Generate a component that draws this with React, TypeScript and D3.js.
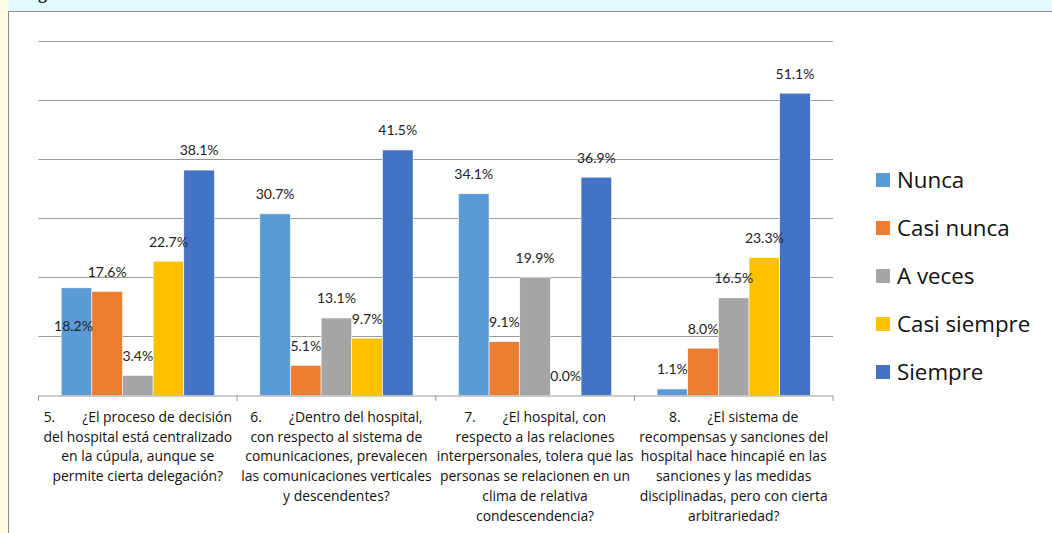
import React from "react";
import * as d3 from "d3";

const categories: string[][] = [
  ["5.|¿El proceso de decisión", "del hospital está centralizado", "en la cúpula, aunque se", "permite cierta delegación?"],
  ["6.|¿Dentro del hospital,", "con respecto al sistema de", "comunicaciones, prevalecen", "las comunicaciones verticales", "y descendentes?"],
  ["7.|¿El hospital, con", "respecto a las relaciones", "interpersonales, tolera que las", "personas se relacionen en un", "clima de relativa", "condescendencia?"],
  ["8.|¿El sistema de", "recompensas y sanciones del", "hospital hace hincapié en las", "sanciones y las medidas", "disciplinadas, pero con cierta", "arbitrariedad?"],
];
const seriesNames = ["Nunca", "Casi nunca", "A veces", "Casi siempre", "Siempre"];
const nunca = [18.2, 30.7, 34.1, 1.1];
const casiNunca = [17.6, 5.1, 9.1, 8.0];
const aVeces = [3.4, 13.1, 19.9, 16.5];
const casiSiempre = [22.7, 9.7, 0.0, 23.3];
const siempre = [38.1, 41.5, 36.9, 51.1];
const colors = ["#5B9BD5", "#ED7D31", "#A5A5A5", "#FFC000", "#4472C4"];

const seriesValues = [nunca, casiNunca, aVeces, casiSiempre, siempre];

// manually displaced data label (series index, category index) -> offset
const labelOffsets: Record<string, [number, number]> = { "0-0": [-3, 58] };

export default function App() {
  const W = 1052, H = 533;
  const plotLeft = 38.5, plotRight = 833, yTop = 40.5, yBase = 395.5;
  const y = d3.scaleLinear().domain([0, 60]).range([yBase, yTop]);
  const catIdx = categories.map((_, i) => i);
  const x0 = d3.scaleBand<number>().domain(catIdx).range([plotLeft, plotRight]).padding(0);
  const x1 = d3.scaleBand<number>().domain(seriesNames.map((_, i) => i)).range([0, x0.bandwidth()]).paddingInner(0).paddingOuter(0.74);
  const ticks = y.ticks(6);
  const font = "Lato, 'Open Sans', sans-serif";
  const font2 = "'Open Sans', Lato, sans-serif";
  const fmt = d3.format(".1f");

  return (
    <svg width={W} height={H} style={{ position: "absolute", left: 0, top: 0, background: "#fff" }} fontFamily={font}>
      <rect x={0} y={0} width={W} height={11} fill="#e2fbfb" />
      <rect x={0} y={0} width={8} height={H} fill="#fffbe6" />
      <text x={38} y={-1} fontFamily="'Liberation Serif', serif" fontWeight="bold" fontSize={18} fill="#222">g</text>
      <rect x={8.5} y={11.5} width={1100} height={600} fill="#fff" stroke="#8c8c8c" strokeWidth={1} />
      {ticks.filter(t => t > 0).map(t => (
        <line key={t} x1={plotLeft} x2={plotRight} y1={Math.round(y(t)) + 0.5} y2={Math.round(y(t)) + 0.5} stroke="#999" strokeWidth={1} />
      ))}
      {seriesValues.map((vals, si) => vals.map((v, ci) => {
        const bx = (x0(ci) as number) + (x1(si) as number);
        return (
          <rect key={`b${si}-${ci}`} x={bx} y={y(v)} width={x1.bandwidth()} height={yBase - y(v)} fill={colors[si]} stroke="#fff" strokeWidth={0.6} />
        );
      }))}
      <line x1={plotLeft} x2={plotRight} y1={yBase + 0.5} y2={yBase + 0.5} stroke="#999" strokeWidth={1} />
      {[...catIdx, catIdx.length].map(i => {
        const xx = i < catIdx.length ? (x0(i) as number) : plotRight;
        return <line key={`t${i}`} x1={xx} x2={xx} y1={yBase} y2={yBase + 5.5} stroke="#999" strokeWidth={1} />;
      })}
      {seriesValues.map((vals, si) => vals.map((v, ci) => {
        const off = labelOffsets[`${si}-${ci}`] || [0, 0];
        const cx = (x0(ci) as number) + (x1(si) as number) + x1.bandwidth() / 2 + off[0];
        const cy = y(v) - 19.6 + off[1];
        return (
          <text key={`l${si}-${ci}`} x={cx} y={cy + 5} textAnchor="middle" fontSize={14} fill="#222">{fmt(v)}%</text>
        );
      }))}
      {categories.map((lines, ci) => {
        const cx = (x0(ci) as number) + x0.bandwidth() / 2;
        return lines.map((ln, li) => {
          const yy = 422 + li * 19.7;
          if (ln.includes("|")) {
            const [num, rest] = ln.split("|");
            return (
              <text key={`c${ci}-${li}`} x={cx} y={yy} textAnchor="middle" fontSize={13.9} fontFamily={font2} fill="#111">
                <tspan>{num}</tspan><tspan dx={27}>{rest}</tspan>
              </text>
            );
          }
          return <text key={`c${ci}-${li}`} x={cx} y={yy} textAnchor="middle" fontSize={13.9} fontFamily={font2} fill="#111">{ln}</text>;
        });
      })}
      {seriesNames.map((name, si) => {
        const cy = 180 + si * 48;
        return (
          <g key={`lg${si}`}>
            <rect x={876} y={cy - 7} width={14} height={14} fill={colors[si]} />
            <text x={897} y={cy + 7.8} fontSize={22.3} fontFamily={font2} fill="#111">{name}</text>
          </g>
        );
      })}
    </svg>
  );
}
